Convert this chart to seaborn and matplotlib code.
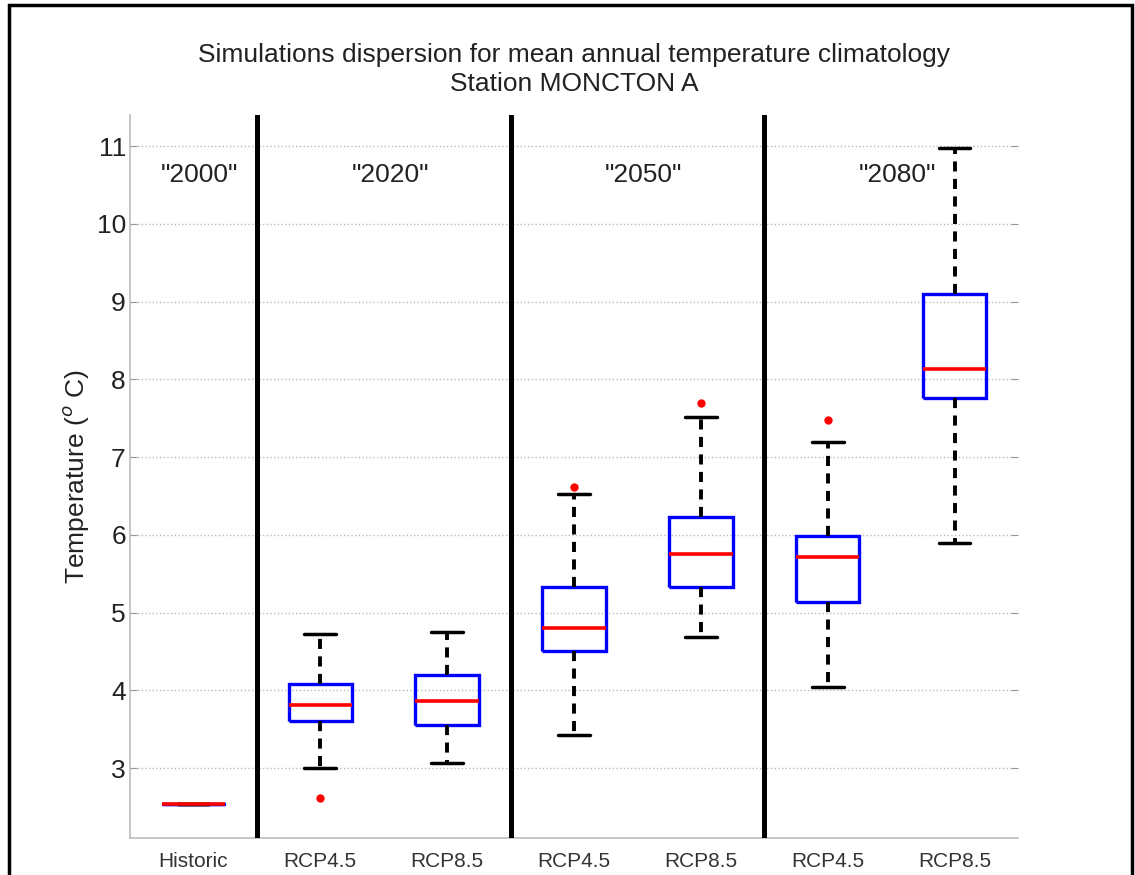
import numpy as np
import pandas as pd
import seaborn as sns
import matplotlib
matplotlib.use("Agg")
import matplotlib.pyplot as plt
from matplotlib.patches import Rectangle

# Box statistics (deg C)
categories = ["Historic", "RCP4.5 2020", "RCP8.5 2020", "RCP4.5 2050",
              "RCP8.5 2050", "RCP4.5 2080", "RCP8.5 2080"]
tick_labels = ["Historic", "RCP4.5", "RCP8.5", "RCP4.5", "RCP8.5", "RCP4.5", "RCP8.5"]
periods = ['"2000"', '"2020"', '"2050"', '"2080"']
period_sizes = [1, 2, 2, 2]

whisker_low = [2.54, 3.00, 3.06, 3.42, 4.69, 4.04, 5.89]
q1 = [2.54, 3.60, 3.55, 4.50, 5.33, 5.13, 7.76]
median = [2.54, 3.81, 3.86, 4.80, 5.75, 5.72, 8.13]
q3 = [2.54, 4.08, 4.20, 5.33, 6.23, 5.98, 9.10]
whisker_high = [2.54, 4.73, 4.75, 6.52, 7.51, 7.20, 10.98]

outlier_cat = ["RCP4.5 2020", "RCP4.5 2050", "RCP8.5 2050", "RCP4.5 2080"]
outlier_val = [2.61, 6.61, 7.69, 7.48]

# long-form table: the five summary values of each box
rows = []
for i, cat in enumerate(categories):
    for v in (whisker_low[i], q1[i], median[i], q3[i], whisker_high[i]):
        rows.append({"category": cat, "temperature": v})
df = pd.DataFrame(rows)

sns.set_style("white")
plt.rcParams['font.family'] = ['Liberation Sans', 'DejaVu Sans']

fig = plt.figure(figsize=(11.35, 8.75), dpi=100)
ax = fig.add_axes([130 / 1135, 1 - 838 / 875, (1018 - 130) / 1135, (838 - 115) / 875])

sns.boxplot(data=df, x="category", y="temperature", order=categories, ax=ax,
            width=0.5, whis=(0, 100), fill=False, showfliers=False,
            linewidth=2.4,
            boxprops=dict(color="#0000ff", linewidth=2.4, solid_capstyle="butt",
                          solid_joinstyle="miter"),
            medianprops=dict(color="#ff0000", linewidth=2.6),
            whiskerprops=dict(color="black", linewidth=2.8, linestyle=(0, (2.6, 1.9))),
            capprops=dict(color="black", linewidth=2.5))

sns.stripplot(x=outlier_cat, y=outlier_val, order=categories, ax=ax,
              jitter=False, marker="o", color="#ff0000", size=6, linewidth=0)

# period separators and labels
ends = np.cumsum(period_sizes)
for b in ends[:-1] - 0.5:
    ax.axvline(b, color="black", lw=3.6, zorder=5)
for lab, c in zip(periods, ends - np.array(period_sizes) / 2 - 0.5):
    ax.text(c + 0.05, 10.63, lab, ha="center", va="center", fontsize=19, color="#222222")

ax.set_xlim(-0.5, 6.5)
ax.set_ylim(2.1, 11.4)
ax.set_xticks(range(len(categories)))
ax.set_xticklabels(tick_labels, fontsize=15, color="#333333")
ax.set_yticks(range(3, 12))
ax.tick_params(axis="y", labelsize=19, labelcolor="#222222", length=5, color="#999999",
               left=True, right=True, direction="in", pad=3)
ax.tick_params(axis="x", length=0, pad=10)
ax.yaxis.grid(True, linestyle=":", color="#bbbbbb", lw=1)
ax.set_xlabel("")
ax.set_ylabel("Temperature ($^o$ C)", fontsize=19, color="#222222", labelpad=4)
for s in ["top", "right"]:
    ax.spines[s].set_visible(False)
for s in ["left", "bottom"]:
    ax.spines[s].set_color("#bbbbbb")
    ax.spines[s].set_linewidth(1.2)

ax.set_title("Simulations dispersion for mean annual temperature climatology\nStation MONCTON A",
             fontsize=19, color="#222222", pad=17, linespacing=1.3)

# outer frame of the figure
fig.add_artist(Rectangle((9 / 1135, -0.1), (1132 - 9) / 1135, 1.1 - 5 / 875,
                         transform=fig.transFigure, fill=False, lw=2.5, ec="black"))

fig.savefig("out.png", dpi=100)
